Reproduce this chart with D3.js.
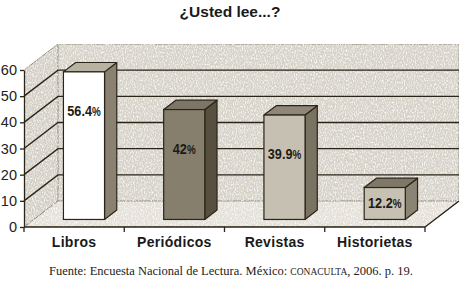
<!DOCTYPE html>
<html lang="es">
<head>
<meta charset="utf-8">
<script src="https://d3js.org/d3.v7.min.js"></script>
<style>
  body { margin: 0; background: #fff; }
  svg { display: block; }
</style>
</head>
<body>
<script>
// data
const categories = ["Libros", "Periódicos", "Revistas", "Historietas"];
const values = [56.4, 42, 39.9, 12.2];
const yTicks = [0, 10, 20, 30, 40, 50, 60];

const W = 463, H = 282;
// front face colours / top / side for each bar
const fronts = ["#ffffff", "#877f6e", "#c5c0b2", "#c6c1b3"];
const tops = ["#b8b2a2", "#7d7666", "#8f8878", "#7f7767"];
const sides = ["#8a8170", "#574f40", "#7a7262", "#8b8373"];
const ink = "#2b2519";

const svg = d3.select("body").append("svg")
  .attr("width", W).attr("height", H);

// texture for the walls
const defs = svg.append("defs");
const f = defs.append("filter").attr("id", "grain")
  .attr("x", 0).attr("y", 0).attr("width", 1).attr("height", 1);
f.append("feTurbulence").attr("type", "fractalNoise")
  .attr("baseFrequency", "0.9 0.5").attr("numOctaves", 2).attr("seed", 3)
  .attr("result", "n");
f.append("feColorMatrix").attr("in", "n").attr("type", "matrix")
  .attr("values", "0 0 0 0 1  0 0 0 0 1  0 0 0 0 1  0 0 0 -2.2 1.25")
  .attr("result", "spots");
f.append("feComposite").attr("in", "spots").attr("in2", "SourceGraphic")
  .attr("operator", "in").attr("result", "s2");
f.append("feMerge").call(m => {
  m.append("feMergeNode").attr("in", "SourceGraphic");
  m.append("feMergeNode").attr("in", "s2");
});

// scales: front plane, plus a depth offset
const y = d3.scaleLinear().domain([0, 60]).range([227, 70]);
const x = d3.scaleBand().domain(categories).range([24, 425])
  .paddingInner(0.59).paddingOuter(0.295);
const DX = 34, DY = -26;
const px = (xx, d) => xx + DX * d;
const py = (yy, d) => yy + DY * d;

const x0 = 24, x1 = 425;
const pts = a => a.map(p => p.join(",")).join(" ");

// back wall
svg.append("polygon")
  .attr("points", pts([[px(x0,1), py(y(60),1)], [px(x1,1), py(y(60),1)],
                       [px(x1,1), py(y(0),1)], [px(x0,1), py(y(0),1)]]))
  .attr("fill", "#d6d2c8").attr("stroke", "#8f8a78").attr("stroke-width", 1)
  .attr("filter", "url(#grain)");
// side wall
svg.append("polygon")
  .attr("points", pts([[x0, y(0)], [x0, y(60)], [px(x0,1), py(y(60),1)], [px(x0,1), py(y(0),1)]]))
  .attr("fill", "#d3cfc5").attr("stroke", "#8f8a78").attr("stroke-width", 1)
  .attr("filter", "url(#grain)");
// floor
svg.append("polygon")
  .attr("points", pts([[x0, y(0)], [x1, y(0)], [px(x1,1), py(y(0),1)], [px(x0,1), py(y(0),1)]]))
  .attr("fill", "#e4e0d8").attr("stroke", "#8f8a78").attr("stroke-width", 1)
  .attr("filter", "url(#grain)");
// floor right edge is dark
svg.append("line")
  .attr("x1", x1).attr("y1", y(0)).attr("x2", px(x1,1)).attr("y2", py(y(0),1))
  .attr("stroke", ink).attr("stroke-width", 1.3);

// gridlines on back and side walls
const grid = yTicks.filter(v => v > 0 && v < 60);
svg.append("g").selectAll("polyline").data(grid).join("polyline")
  .attr("points", v => pts([[x0, y(v)], [px(x0,1), py(y(v),1)], [px(x1,1), py(y(v),1)]]))
  .attr("fill", "none").attr("stroke", ink).attr("stroke-width", 1.4);

// y axis
const yAxis = svg.append("g").attr("transform", `translate(${x0},0)`)
  .call(d3.axisLeft(y).tickValues(yTicks).tickSize(4).tickSizeOuter(0).tickPadding(3));
yAxis.select(".domain").attr("stroke", ink).attr("stroke-width", 1.3);
yAxis.selectAll(".tick line").attr("stroke", ink).attr("stroke-width", 1.3);
yAxis.selectAll("text").attr("fill", "#222")
  .style("font-family", "'Liberation Sans', Arial, sans-serif").style("font-size", "14.5px");

// x axis (ticks at category boundaries)
const bounds = d3.range(categories.length + 1).map(i => x0 + i * x.step());
svg.append("line").attr("x1", x0).attr("x2", x1).attr("y1", y(0)).attr("y2", y(0))
  .attr("stroke", ink).attr("stroke-width", 1.3);
svg.append("g").selectAll("line").data(bounds).join("line")
  .attr("x1", d => d).attr("x2", d => d).attr("y1", y(0)).attr("y2", y(0) + 5)
  .attr("stroke", ink).attr("stroke-width", 1.3);
const xAxis = svg.append("g").attr("transform", `translate(0,${y(0)})`)
  .call(d3.axisBottom(x).tickSize(0).tickPadding(10));
xAxis.select(".domain").remove();
xAxis.selectAll("text").attr("fill", "#1a1a1a")
  .style("font-family", "'Liberation Sans', Arial, sans-serif")
  .style("font-size", "14px").style("font-weight", "bold").style("letter-spacing", "0.3px");

// bars
const dA = 0.29, dB = 0.65;
const bars = svg.append("g").selectAll("g").data(values).join("g");
bars.each(function (v, i) {
  const g = d3.select(this);
  const L = x(categories[i]), R = L + x.bandwidth();
  const T = y(v), B = y(0);
  // side
  g.append("polygon")
    .attr("points", pts([[px(R,dA), py(T,dA)], [px(R,dB), py(T,dB)], [px(R,dB), py(B,dB)], [px(R,dA), py(B,dA)]]))
    .attr("fill", sides[i]).attr("stroke", ink).attr("stroke-width", 1.2).attr("stroke-linejoin", "round");
  // top
  g.append("polygon")
    .attr("points", pts([[px(L,dA), py(T,dA)], [px(L,dB), py(T,dB)], [px(R,dB), py(T,dB)], [px(R,dA), py(T,dA)]]))
    .attr("fill", tops[i]).attr("stroke", ink).attr("stroke-width", 1.2).attr("stroke-linejoin", "round");
  // front
  g.append("rect")
    .attr("x", px(L,dA)).attr("y", py(T,dA))
    .attr("width", x.bandwidth()).attr("height", B - T)
    .attr("fill", fronts[i]).attr("stroke", ink).attr("stroke-width", 1.2);
  // label, squeezed to look like a narrow font
  const lv = Math.max(v - 15, v / 2);
  const t = g.append("text")
    .attr("transform", `translate(${px(L + x.bandwidth() / 2, dA)},${py(y(lv), dA) + 5}) scale(0.82,1)`)
    .attr("text-anchor", "middle").attr("fill", "#1e1b14")
    .style("font-family", "'Liberation Sans', Arial, sans-serif")
    .style("font-weight", "bold").style("font-size", "15.5px");
  t.append("tspan").text(v);
  t.append("tspan").text("%").style("font-size", "12px");
});

// title
svg.append("text").attr("x", 230).attr("y", 17).attr("text-anchor", "middle")
  .attr("fill", "#1a1a1a")
  .style("font-family", "'Liberation Sans', Arial, sans-serif")
  .style("font-weight", "bold").style("font-size", "15.5px")
  .text("¿Usted lee...?");

// source note
const src = svg.append("text").attr("x", 231).attr("y", 275).attr("text-anchor", "middle")
  .attr("fill", "#222")
  .style("font-family", "'Liberation Serif', 'DejaVu Serif', serif").style("font-size", "12.5px");
src.append("tspan").text("Fuente: Encuesta Nacional de Lectura. México: ");
src.append("tspan").text("CONACULTA").style("font-size", "9.5px");
src.append("tspan").text(", 2006. p. 19.");
</script>
</body>
</html>
